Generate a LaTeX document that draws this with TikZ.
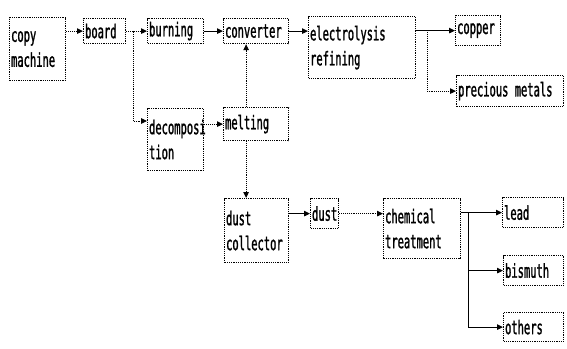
\documentclass[tikz,border=0pt]{standalone}
\usepackage{fontspec}
\newfontfamily\pix[FakeStretch=0.55,FakeBold=1.2]{DejaVu Sans Mono}
\usetikzlibrary{arrows.meta}
\tikzset{
  box/.style={draw, densely dotted, line width=1.2pt, anchor=north west, align=left,
    inner xsep=1.5pt, inner ysep=0pt, font=\pix\fontsize{19}{25}\selectfont},
  conn/.style={line width=0.9pt, -{Triangle[length=6pt,width=5.5pt]}},
  dconn/.style={conn, densely dotted},
}
\begin{document}
\begin{tikzpicture}[x=1pt,y=-1pt]
\useasboundingbox (0,0) rectangle (567,348);
\node[box, text width=53pt, minimum height=63pt] (copy) at (9,17) {copy\\machine};
\node[box, text width=39pt, minimum height=25pt] (board) at (83,18) {board};
\node[box, text width=53pt, minimum height=25pt] (burning) at (147,18) {burning};
\node[box, text width=62pt, minimum height=25pt] (conv) at (223,18) {converter};
\node[box, text width=104pt, minimum height=62pt] (elec) at (308,16) {electrolysis\\refining};
\node[box, text width=42pt, minimum height=30pt] (copper) at (455,15) {copper};
\node[box, text width=104pt, minimum height=31pt] (prec) at (456,75) {precious metals};
\node[box, text width=53pt, minimum height=62pt] (decomp) at (147,108) {decomposi\\tion};
\node[box, text width=62pt, minimum height=33pt] (melt) at (223,107) {melting};
\node[box, text width=61pt, minimum height=64pt] (dcol) at (224,198) {dust\\collector};
\node[box, text width=25pt, minimum height=30pt] (dust) at (310,198) {dust};
\node[box, text width=74pt, minimum height=60pt] (chem) at (383,198) {chemical\\treatment};
\node[box, text width=58pt, minimum height=30pt] (lead) at (502,197) {lead};
\node[box, text width=57pt, minimum height=30pt] (bis) at (503,255) {bismuth};
\node[box, text width=57pt, minimum height=29pt] (others) at (503,312) {others};
% connectors
\coordinate (bj) at (133,30.5);
\coordinate (ej) at (427,30);
\coordinate (cj) at (468,212);
\draw[dconn] (copy.east |- board.west) -- (board.west);
\draw[dconn] (board.east) -- (burning.west);
\draw[dconn] (bj) |- ([yshift=-13pt]decomp.north west);
\draw[conn] (burning.east) -- (conv.west);
\draw[conn] (conv.east) -- (conv.east -| elec.west);
\draw[conn] (elec.east |- copper.west) -- (copper.west);
\draw[dconn] (ej) |- (prec.west);
\draw[dconn] (decomp.east |- melt.west) -- (melt.west);
\draw[dconn] ([xshift=-10pt]melt.north) -- ([xshift=-10pt]melt.north |- conv.south);
\draw[dconn] ([xshift=-10pt]melt.south) -- ([xshift=-10pt]melt.south |- dcol.north);
\draw[conn] (dcol.east |- dust.west) -- (dust.west);
\draw[dconn] (dust.east) -- (dust.east -| chem.west);
\draw[conn] (chem.east |- lead.west) -- (lead.west);
\draw[conn] (cj) |- (bis.west);
\draw[conn] (cj) |- (others.west);
\end{tikzpicture}
\end{document}
